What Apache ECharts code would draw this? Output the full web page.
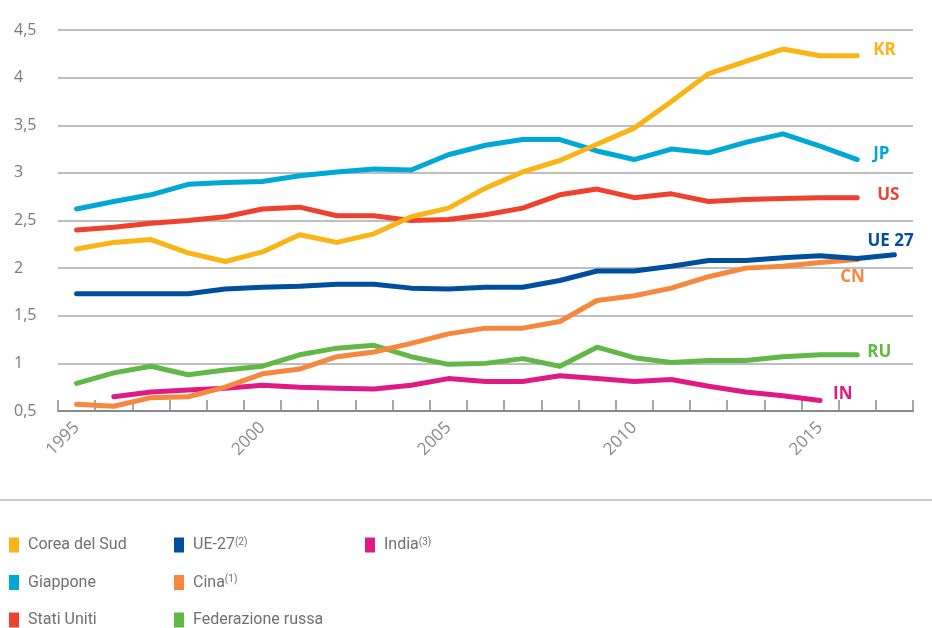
<!DOCTYPE html>
<html>
<head>
<meta charset="utf-8">
<script src="https://cdn.jsdelivr.net/npm/echarts@6/dist/echarts.min.js"></script>
<style>
html,body{margin:0;padding:0;background:#fff;}
#c{width:932px;height:628px;}
</style>
</head>
<body>
<div id="c"></div>
<script>
var years = ['1995','1996','1997','1998','1999','2000','2001','2002','2003','2004','2005','2006','2007','2008','2009','2010','2011','2012','2013','2014','2015','2016','2017'];
var yTicks = [0.5, 4.5, 0.5]; // min, max, interval
var korea = [2.20,2.27,2.30,2.16,2.07,2.17,2.35,2.27,2.36,2.54,2.63,2.84,3.01,3.13,3.30,3.47,3.75,4.04,4.17,4.30,4.23,4.23];
var japan = [2.62,2.70,2.77,2.88,2.90,2.91,2.97,3.01,3.04,3.03,3.19,3.29,3.35,3.35,3.23,3.14,3.25,3.21,3.32,3.41,3.28,3.14];
var usa = [2.40,2.43,2.47,2.50,2.54,2.62,2.64,2.55,2.55,2.50,2.51,2.56,2.63,2.77,2.83,2.74,2.78,2.70,2.72,2.73,2.74,2.74];
var eu27 = [1.73,1.73,1.73,1.73,1.78,1.80,1.81,1.83,1.83,1.79,1.78,1.80,1.80,1.87,1.97,1.97,2.02,2.08,2.08,2.11,2.13,2.10,2.14];
var china = [0.57,0.55,0.64,0.65,0.75,0.89,0.94,1.07,1.12,1.21,1.31,1.37,1.37,1.44,1.66,1.71,1.79,1.91,2.00,2.02,2.06,2.09];
var russia = [0.79,0.90,0.97,0.88,0.93,0.97,1.09,1.16,1.19,1.07,0.99,1.00,1.05,0.97,1.17,1.06,1.01,1.03,1.03,1.07,1.09,1.09];
var india = [null,0.65,0.70,0.72,0.74,0.77,0.75,0.74,0.73,0.77,0.84,0.81,0.81,0.87,0.84,0.81,0.83,0.76,0.70,0.66,0.61];
var names = ['Corea del Sud','Giappone','Stati Uniti','UE-27','Cina','Federazione russa','India'];
var codes = ['KR','JP','US','UE 27','CN','RU','IN'];
var sups = {'UE-27':'(2)','Cina':'(1)','India':'(3)'};

var colors = ['#FBB416','#00A8D6','#EE4130','#004F9E','#F5873F','#62B846','#E01A84'];
var datasets = [korea, japan, usa, eu27, china, russia, india];
var labelOffsets = [[16,-6],[16,-5],[20,-2],[-27,-14],[-17,18],[10,-3],[13,-6]];
var zs = [8,7,6,5,4,3,2];

var series = names.map(function(n,i){
  return {
    name: n, type: 'line', data: datasets[i], symbol: 'none', z: zs[i],
    lineStyle: {width: 5, color: colors[i], cap: 'round', join: 'round'},
    itemStyle: {color: colors[i]},
    connectNulls: false,
    endLabel: {
      show: true, distance: 0, offset: labelOffsets[i],
      formatter: codes[i], color: colors[i],
      fontFamily: 'Open Sans', fontWeight: 'bold', fontSize: 17, align: 'left'
    },
    emphasis: {disabled: true}
  };
});

var legendFont = 'Liberation Sans Narrow, Roboto, sans-serif';
var legendText = {
  color: '#707070', fontSize: 16, fontFamily: legendFont, lineHeight: 16,
  padding: [0,0,0,4],
  rich: { s: {fontSize: 10, lineHeight: 16, color: '#707070', verticalAlign: 'top', padding: [0,0,6,0], fontFamily: legendFont} }
};
function legendFmt(name){ return sups[name] ? name + '{s|' + sups[name] + '}' : name; }
function mkLegend(left, data){
  return {
    left: left, top: 537, height: 110, orient: 'vertical', icon: 'rect', itemWidth: 10, itemHeight: 15,
    padding: 0, itemGap: 21.5, data: data, textStyle: legendText, formatter: legendFmt, selectedMode: false
  };
}

var chart = echarts.init(document.getElementById('c'), null, {renderer: 'canvas'});
chart.setOption({
  animation: false,
  backgroundColor: '#fff',
  grid: {left: 58, right: 19, top: 30, bottom: 217, containLabel: false},
  xAxis: {
    type: 'category', data: years, boundaryGap: true,
    axisLine: {lineStyle: {color: '#8a8a8a', width: 2}},
    axisTick: {show: true, inside: true, length: 11, interval: 0, lineStyle: {color: '#8a8a8a', width: 1.5}},
    axisLabel: {interval: 4, rotate: 45, color: '#8a8a8a', fontSize: 17, margin: 14, fontFamily: 'Open Sans'},
    splitLine: {show: false}
  },
  yAxis: {
    type: 'value', min: yTicks[0], max: yTicks[1], interval: yTicks[2],
    axisLine: {show: false}, axisTick: {show: false},
    axisLabel: {color: '#7a7a7a', fontSize: 16, align: 'left', margin: 44, fontFamily: 'Open Sans',
      formatter: function(v){ return String(v).replace('.', ','); }},
    splitLine: {lineStyle: {color: '#a8a8a8', width: 1.5}}
  },
  legend: [
    mkLegend(9, names.slice(0,3)),
    mkLegend(174, names.slice(3,6)),
    mkLegend(365, names.slice(6))
  ],
  graphic: [{
    type: 'line', shape: {x1: 0, y1: 500, x2: 932, y2: 500},
    style: {stroke: '#cccccc', lineWidth: 2}, silent: true
  }],
  series: series
});
</script>
</body>
</html>
